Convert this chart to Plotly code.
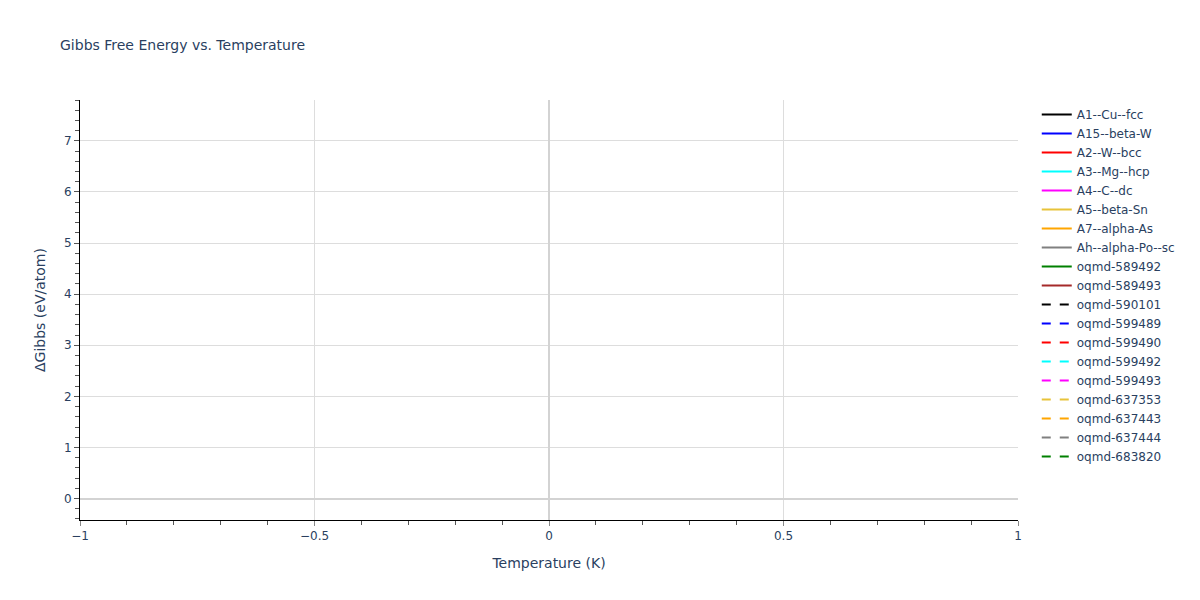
import plotly.graph_objects as go

# Series names, colours and dash styles (no data points visible in the reference)
series_names = [
    "A1--Cu--fcc", "A15--beta-W", "A2--W--bcc", "A3--Mg--hcp", "A4--C--dc",
    "A5--beta-Sn", "A7--alpha-As", "Ah--alpha-Po--sc", "oqmd-589492", "oqmd-589493",
    "oqmd-590101", "oqmd-599489", "oqmd-599490", "oqmd-599492", "oqmd-599493",
    "oqmd-637353", "oqmd-637443", "oqmd-637444", "oqmd-683820",
]
series_colors = [
    "black", "blue", "red", "cyan", "magenta", "#E8C33A", "orange", "gray", "green", "brown",
    "black", "blue", "red", "cyan", "magenta", "#E8C33A", "orange", "gray", "green",
]
series_dash = ["solid"] * 10 + ["dash"] * 9
temperature = [None]   # x values (no visible points in the reference)
delta_gibbs = [None]   # y values (no visible points in the reference)

fig = go.Figure()
for name, color, dash in zip(series_names, series_colors, series_dash):
    fig.add_trace(go.Scatter(
        x=temperature, y=delta_gibbs, mode="lines", name=name,
        line=dict(color=color, dash=dash, width=2),
        showlegend=True,
    ))

fig.update_layout(
    template="plotly_white",
    width=1200, height=600,
    title=dict(text="Gibbs Free Energy vs. Temperature", x=0.05,
               font=dict(size=14, color="#2a3f5f")),
    font=dict(family="DejaVu Sans, Verdana, sans-serif", size=12, color="#2a3f5f"),
    margin=dict(l=80, r=182, t=100, b=80, autoexpand=False),
    showlegend=True,
    legend=dict(font=dict(size=12), x=1.02, y=1, xanchor="left", yanchor="top"),
)
fig.update_xaxes(
    title_text="Temperature (K)", range=[-1, 1],
    showline=True, linecolor="black", linewidth=1,
    ticks="outside", tickcolor="#888", ticklen=5,
    minor=dict(ticks="outside", dtick=0.1, ticklen=4, tickcolor="#555", showgrid=False),
    showgrid=True, gridcolor="#dddddd",
    zeroline=True, zerolinecolor="#d3d3d3", zerolinewidth=2,
)
fig.update_yaxes(
    title_text="ΔGibbs (eV/atom)", range=[-0.42, 7.8],
    showline=True, linecolor="black", linewidth=1,
    ticks="outside", tickcolor="#555", ticklen=5,
    minor=dict(ticks="outside", dtick=0.2, ticklen=4, tickcolor="#555", showgrid=False),
    showgrid=True, gridcolor="#dddddd",
    zeroline=True, zerolinecolor="#d3d3d3", zerolinewidth=2,
)

fig.write_html("out.html", config={"displayModeBar": False},
               post_script="document.body.style.margin='0';")
